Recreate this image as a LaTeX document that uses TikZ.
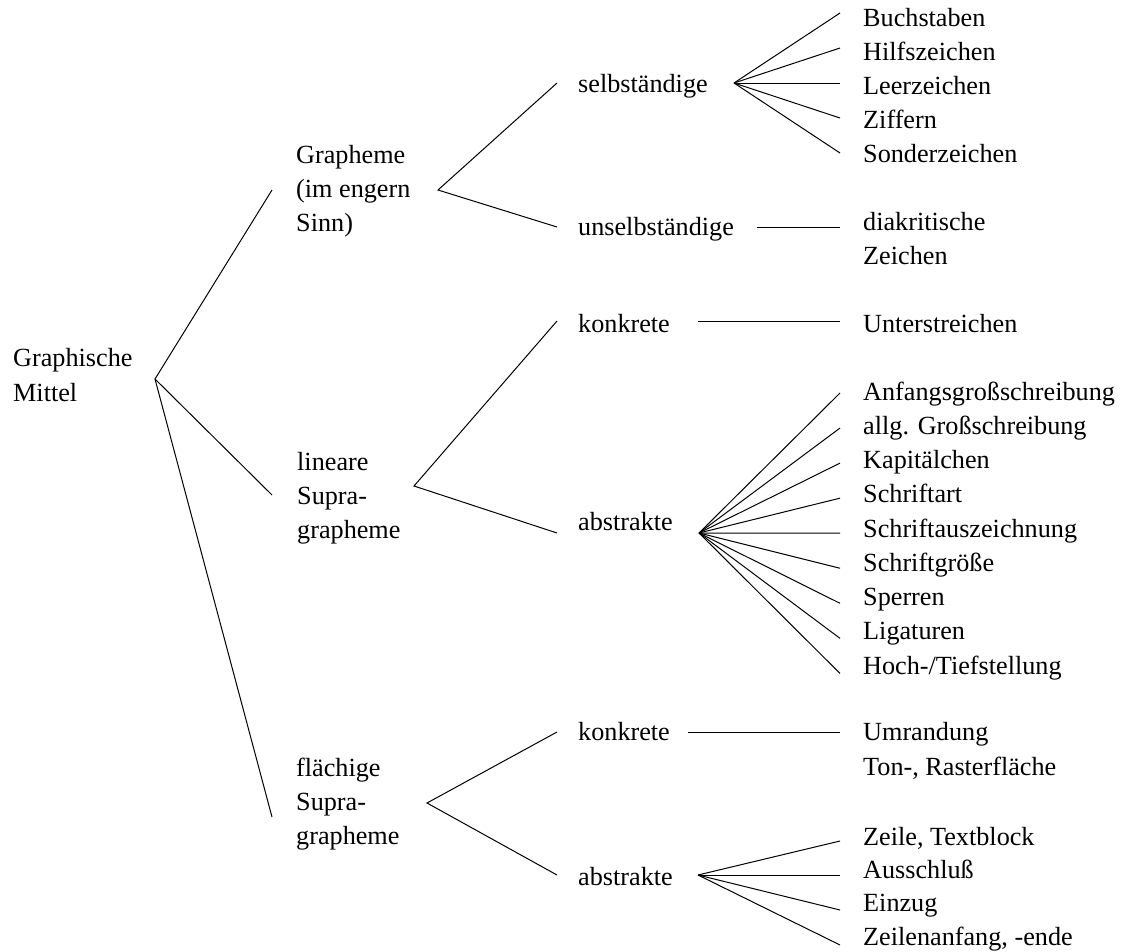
\documentclass[tikz,border=0pt]{standalone}
\usepackage{fontspec}
\setmainfont{Liberation Serif}
\begin{document}
\begin{tikzpicture}[x=1pt,y=-1pt,
  lbl/.style={anchor=base west,inner sep=0pt,font=\fontsize{26.2}{34.2}\selectfont,align=left},
  conn/.style={line width=1pt}]
\useasboundingbox (0,0) rectangle (1124,951);
% ---------- text nodes (multi-line nodes: base = last line) ----------
\node[lbl] (gm) at (13,401) {Graphische\\Mittel};
\node[lbl] (gr) at (296,231.4) {Grapheme\\(im engern\\Sinn)};
\node[lbl] (lin) at (297,538.4) {lineare\\Supra-\\grapheme};
\node[lbl] (fl) at (296,844.5) {flächige\\Supra-\\grapheme};
\node[lbl] (sel) at (578,92) {selbständige};
\node[lbl] (unsel) at (578,235) {unselbständige};
\node[lbl] (k1) at (578,332) {konkrete};
\node[lbl] (a1) at (578,530) {abstrakte};
\node[lbl] (k2) at (578,740) {konkrete};
\node[lbl] (a2) at (578,885) {abstrakte};
% right column
\node[lbl] (t1) at (863,26) {Buchstaben};
\node[lbl] (t2) at (863,60.2) {Hilfszeichen};
\node[lbl] (t3) at (863,94.3) {Leerzeichen};
\node[lbl] (t4) at (863,128.5) {Ziffern};
\node[lbl] (t5) at (863,162.6) {Sonderzeichen};
\node[lbl] (dia) at (863,264.5) {diakritische\\Zeichen};
\node[lbl] (unt) at (863,332) {Unterstreichen};
\node[lbl] (s1) at (863,400) {Anfangsgroßschreibung};
\node[lbl] (s2) at (863,434.2) {allg. Großschreibung};
\node[lbl] (s3) at (863,468.5) {Kapitälchen};
\node[lbl] (s4) at (863,502.7) {Schriftart};
\node[lbl] (s5) at (863,537) {Schriftauszeichnung};
\node[lbl] (s6) at (863,571.2) {Schriftgröße};
\node[lbl] (s7) at (863,605.5) {Sperren};
\node[lbl] (s8) at (863,639.7) {Ligaturen};
\node[lbl] (s9) at (863,674) {Hoch-/Tiefstellung};
\node[lbl] (umr) at (863,775) {Umrandung\\Ton-, Rasterfläche};
\node[lbl] (z1) at (863,845) {Zeile, Textblock};
\node[lbl] (z2) at (863,878.3) {Ausschluß};
\node[lbl] (z3) at (863,911.7) {Einzug};
\node[lbl] (z4) at (863,945) {Zeilenanfang, -ende};
% ---------- junction coordinates ----------
\coordinate (root) at (155,379);
\coordinate (grL) at (272,190);
\coordinate (linL) at (272,495);
\coordinate (flL) at (272,817);
\coordinate (grR) at (438,190);
\coordinate (selL) at (557,83);
\coordinate (unselL) at (557,227);
\coordinate (selR) at (734,83);
\coordinate (unselR) at (757,227);
\coordinate (diaL) at (840,227);
\foreach \i/\y in {1/13,2/48,3/83,4/118,5/153} \coordinate (tL\i) at (840,\y);
\coordinate (linR) at (414,486);
\coordinate (k1L) at (557,321);
\coordinate (a1L) at (557,533);
\coordinate (k1R) at (698,321);
\coordinate (untL) at (840,321);
\coordinate (a1R) at (699,533);
\foreach \i in {1,...,9} \coordinate (sL\i) at (840,{393+35.05*(\i-1)});
\coordinate (flR) at (427,803);
\coordinate (k2L) at (557,732);
\coordinate (a2L) at (557,875);
\coordinate (k2R) at (688,732);
\coordinate (umrL) at (840,732);
\coordinate (a2R) at (698,875);
\foreach \i/\y in {1/841,2/875,3/910,4/945} \coordinate (zL\i) at (840,\y);
% ---------- connectors ----------
\draw[conn] (grL) -- (root) -- (linL);
\draw[conn] (root) -- (flL);
\draw[conn] (selL) -- (grR) -- (unselL);
\foreach \i in {1,...,5} \draw[conn] (selR) -- (tL\i);
\draw[conn] (unselR) -- (diaL);
\draw[conn] (k1L) -- (linR) -- (a1L);
\draw[conn] (k1R) -- (untL);
\foreach \i in {1,...,9} \draw[conn] (a1R) -- (sL\i);
\draw[conn] (k2L) -- (flR) -- (a2L);
\draw[conn] (k2R) -- (umrL);
\foreach \i in {1,...,4} \draw[conn] (a2R) -- (zL\i);
\end{tikzpicture}
\end{document}
